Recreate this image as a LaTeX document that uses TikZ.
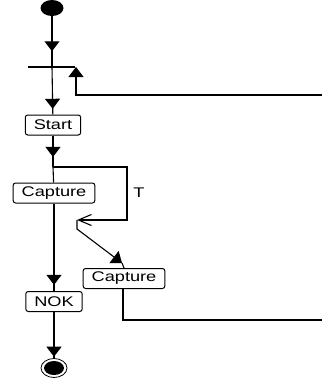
\documentclass[tikz,border=0pt]{standalone}
\usepackage{fontspec}
\newfontfamily\umlfont[FakeStretch=1.3]{Liberation Sans}
\usetikzlibrary{arrows.meta,decorations.markings,shapes.geometric}

\tikzset{
  act/.style={draw,rounded corners=2.5pt,line width=1pt,minimum height=20pt,inner xsep=8.5pt,inner ysep=0pt,font=\umlfont\fontsize{14}{14}\selectfont},
  flow/.style={line width=1.1pt,decoration={markings,mark=at position #1 with {\arrow{Triangle[width=15pt,length=10pt]}}},postaction={decorate}},
  line/.style={line width=1.1pt}
}

\begin{document}
\begin{tikzpicture}[x=1pt,y=-1pt]
\useasboundingbox (0,0) rectangle (322,392);
\node[ellipse,fill,minimum width=23pt,minimum height=16pt,inner sep=0pt] (init) at (52,8) {};
\coordinate (bar) at (52,67);
\coordinate (barL) at (28,67);
\coordinate (barR) at (75,67);
\node[act] (start) at (53,125) {Start};
\coordinate (split) at (53,167);
\node[act] (cap1) at (54,193) {Capture};
\node[act] (nok) at (54,301.5) {NOK};
\node[act] (cap2) at (124,278.5) {Capture};
\node[ellipse,draw,line width=0.8pt,minimum width=26pt,minimum height=19pt,inner sep=0pt] (fin) at (54,368) {};
\node[ellipse,fill,minimum width=20pt,minimum height=14pt,inner sep=0pt] at (fin) {};
\node[font=\umlfont\fontsize{14}{14}\selectfont] (T) at (139,193) {T};
% main flow
\draw[flow=0.69] (init) -- (bar);
\draw[line] (barL) -- (barR);
\draw[flow=0.88] (bar) -- (start);
\draw[flow=0.68] (start) -- (split);
\draw[line] (split) -- (cap1);
\draw[flow=0.93] (cap1) -- (nok);
\draw[flow=0.97] (nok) -- (fin);
% loop over T
\coordinate (loopA) at (127,167);
\coordinate (loopB) at (127,220);
\coordinate (loopC) at (77,220);
\coordinate (loopD) at (77,229);
\coordinate (loopE) at (122,263);
\draw[line,-{Straight Barb[length=13pt,width=11pt]}] (split) -- (loopA) -- (loopB) -- (loopC);
\draw[line,-{Triangle[width=15pt,length=10pt]}] (loopC) -- (loopD) -- (loopE);
\draw[line] (loopE) -- (cap2.north);
% back edges
\coordinate (backA) at (322,95);
\coordinate (backB) at (76,67);
\draw[line,-{Triangle[width=15pt,length=10pt]}] (backA) -| (backB);
\coordinate (outA) at (123,320);
\coordinate (outB) at (322,320);
\draw[line] (cap2.south -| outA) |- (outB);
\end{tikzpicture}
\end{document}
